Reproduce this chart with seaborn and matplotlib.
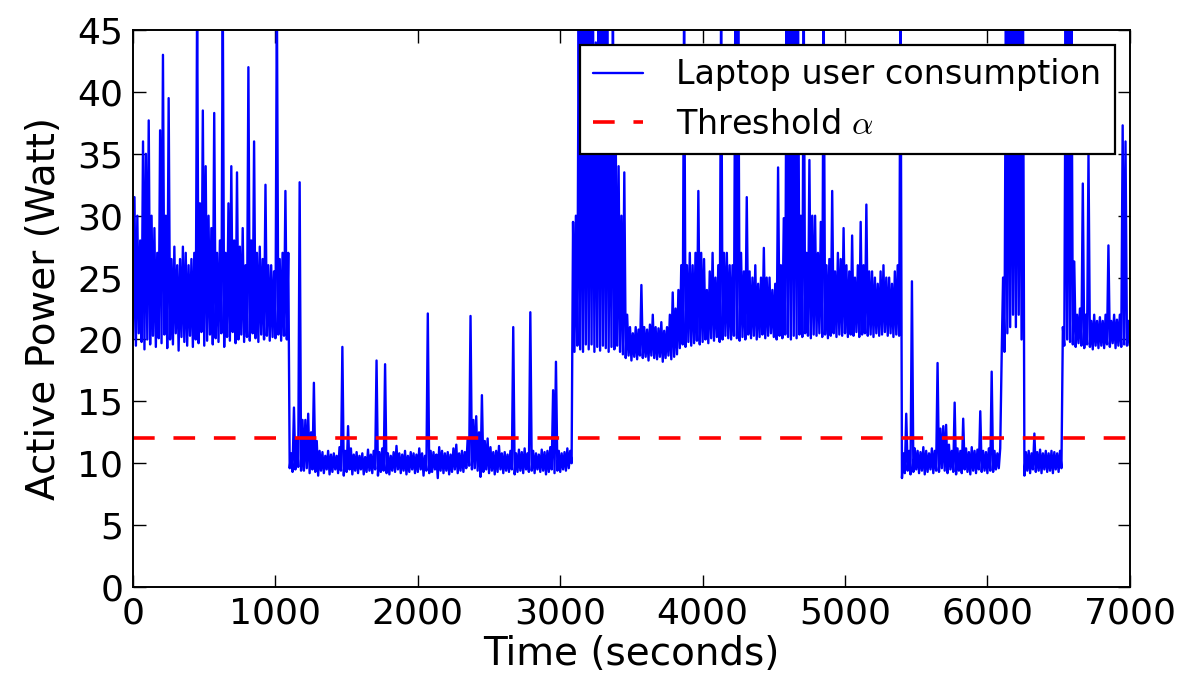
import numpy as np
import pandas as pd
import matplotlib
matplotlib.use("Agg")
import matplotlib.pyplot as plt
import seaborn as sns

# Active power of a laptop user (W), summarised per 20 s window by its
# lowest and highest reading; 48 marks readings above the axis range.
window_s = 20

window_max = [
    31.5, 30.0, 28.0, 36.0, 35.0, 37.7, 30.0, 29.0, 27.0, 36.9,
    43.0, 30.0, 39.5, 26.5, 27.5, 26.0, 26.5, 27.5, 27.0, 26.0,
    26.5, 27.0, 48.0, 31.0, 38.5, 34.0, 30.0, 29.0, 38.3, 27.0,
    28.0, 48.0, 27.0, 31.0, 34.0, 28.0, 33.5, 27.5, 29.0, 26.0,
    42.0, 28.0, 36.0, 27.0, 27.5, 26.5, 32.5, 26.0, 26.0, 25.5,
    48.0, 26.5, 27.0, 32.0, 27.0, 10.8, 14.5, 12.0, 32.7, 13.5,
    13.5, 14.0, 12.5, 16.5, 11.8, 11.0, 10.9, 10.6, 11.0, 10.7,
    10.8, 10.6, 11.3, 19.4, 11.0, 13.0, 11.2, 10.7, 10.9, 10.6,
    10.8, 10.5, 11.1, 10.7, 11.0, 18.3, 10.9, 11.2, 18.0, 10.8,
    10.6, 10.9, 11.4, 10.8, 10.7, 11.0, 10.6, 10.9, 10.8, 10.7,
    11.2, 10.8, 10.6, 22.1, 11.0, 10.9, 10.7, 11.3, 11.0, 10.8,
    10.9, 10.7, 11.2, 11.5, 10.8, 11.0, 10.9, 12.0, 21.9, 13.5,
    13.8, 12.5, 15.5, 11.8, 12.0, 11.3, 10.9, 11.0, 11.4, 10.8,
    10.9, 10.7, 11.0, 21.0, 10.8, 11.1, 10.9, 11.2, 10.8, 22.2,
    11.0, 10.8, 10.7, 11.1, 10.9, 11.0, 11.3, 15.9, 18.2, 11.0,
    10.8, 10.9, 11.2, 11.0, 29.5, 30.0, 48.0, 48.0, 48.0, 48.0,
    48.0, 48.0, 44.0, 48.0, 48.0, 48.0, 48.0, 40.0, 48.0, 36.0,
    34.0, 30.0, 33.5, 22.0, 21.0, 20.5, 21.0, 20.8, 24.4, 21.0,
    20.8, 21.2, 22.0, 21.0, 20.9, 21.4, 20.7, 21.0, 22.0, 23.8,
    22.5, 24.0, 26.0, 48.0, 26.0, 27.0, 26.0, 27.0, 32.0, 27.0,
    26.5, 24.0, 25.5, 27.0, 25.0, 26.0, 48.0, 27.0, 27.0, 26.0,
    26.0, 48.0, 48.0, 27.0, 25.5, 31.5, 25.5, 25.0, 26.0, 24.5,
    25.0, 27.4, 25.0, 25.0, 24.0, 24.5, 33.9, 26.0, 29.8, 48.0,
    48.0, 48.0, 48.0, 48.0, 30.0, 48.0, 27.0, 34.5, 30.0, 30.0,
    27.0, 29.5, 48.0, 26.0, 26.5, 32.0, 25.5, 27.0, 26.5, 29.0,
    26.0, 25.5, 28.4, 25.0, 26.0, 29.5, 26.0, 30.9, 25.5, 25.5,
    25.0, 24.5, 25.5, 26.0, 25.0, 25.0, 24.5, 25.5, 26.0, 48.0,
    10.8, 14.0, 11.0, 24.7, 11.2, 11.0, 10.9, 11.3, 11.0, 10.8,
    11.2, 11.0, 18.1, 12.8, 13.0, 13.1, 11.5, 11.0, 14.9, 11.2,
    11.0, 13.6, 11.2, 10.9, 11.3, 11.0, 11.1, 14.2, 11.0, 10.9,
    11.2, 17.4, 11.0, 10.8, 11.2, 25.0, 48.0, 48.0, 48.0, 48.0,
    48.0, 48.0, 48.0, 10.9, 11.0, 10.8, 12.4, 10.9, 11.1, 10.8,
    11.0, 10.8, 11.0, 10.9, 10.8, 11.0, 21.0, 48.0, 48.0, 48.0,
    26.3, 22.0, 22.5, 32.6, 22.0, 35.0, 21.5, 22.0, 21.5, 21.8,
    21.5, 22.0, 27.6, 21.5, 22.0, 21.6, 22.0, 37.3, 36.0, 21.5,
    21.0,
]

window_min = [
    20.0, 19.5, 20.5, 19.8, 19.2, 20.0, 19.6, 20.3, 19.4, 20.1,
    19.7, 20.4, 19.3, 20.0, 19.6, 20.5, 19.1, 20.2, 19.8, 19.5,
    20.3, 19.4, 20.0, 19.7, 20.6, 19.5, 19.9, 20.4, 19.6, 20.1,
    19.8, 20.5, 19.4, 20.2, 19.9, 20.6, 19.7, 20.0, 20.4, 19.8,
    20.2, 19.9, 20.5, 20.1, 19.8, 20.4, 20.0, 20.3, 19.9, 20.2,
    20.1, 20.4, 19.9, 20.3, 20.0, 9.6, 9.3, 9.5, 9.7, 9.4,
    9.4, 9.6, 9.2, 9.5, 9.3, 9.0, 9.4, 9.2, 9.5, 9.1,
    9.3, 9.5, 9.2, 9.4, 9.0, 9.3, 9.5, 9.1, 9.4, 9.2,
    9.5, 9.1, 9.3, 9.4, 9.2, 9.5, 9.0, 9.3, 9.4, 9.2,
    9.1, 9.4, 9.3, 9.5, 9.2, 9.4, 9.1, 9.3, 9.5, 9.2,
    9.3, 9.5, 9.0, 9.4, 9.2, 9.3, 9.5, 8.8, 9.4, 9.2,
    9.4, 9.1, 9.3, 9.5, 9.2, 9.4, 9.3, 9.6, 9.8, 9.5,
    9.6, 9.4, 8.9, 9.3, 9.5, 9.2, 9.4, 9.1, 9.3, 9.5,
    9.2, 9.4, 9.3, 9.5, 9.1, 9.3, 9.4, 9.2, 9.5, 9.3,
    9.4, 9.2, 9.5, 9.3, 9.4, 9.1, 9.3, 9.5, 9.2, 9.4,
    9.3, 9.5, 9.4, 9.6, 10.0, 19.0, 19.5, 19.2, 19.0, 19.6,
    19.2, 19.6, 19.0, 19.4, 19.1, 19.5, 19.3, 19.0, 19.4, 19.2,
    19.5, 19.0, 18.8, 18.5, 18.7, 18.3, 18.6, 18.4, 18.7, 18.5,
    18.6, 18.3, 18.7, 18.5, 18.4, 18.6, 18.2, 18.5, 18.7, 18.4,
    18.6, 18.8, 19.3, 19.6, 19.4, 19.8, 19.5, 19.7, 19.9, 19.6,
    19.8, 20.0, 19.7, 20.1, 19.9, 20.2, 19.8, 20.0, 20.3, 20.1,
    20.0, 20.3, 20.1, 19.9, 20.2, 20.0, 20.4, 20.1, 20.3, 20.0,
    20.2, 20.4, 20.1, 20.3, 20.5, 20.2, 20.0, 20.3, 20.1, 20.4,
    20.2, 20.0, 20.3, 20.1, 20.4, 20.2, 20.5, 20.3, 20.1, 20.4,
    20.3, 20.5, 20.2, 20.4, 20.1, 20.3, 20.5, 20.2, 20.4, 20.3,
    20.5, 20.2, 20.4, 20.3, 20.6, 20.2, 20.4, 20.5, 20.3, 20.4,
    20.2, 20.5, 20.3, 20.4, 20.6, 20.3, 20.5, 20.2, 20.4, 20.3,
    8.8, 9.2, 9.4, 9.1, 9.3, 9.5, 9.2, 9.4, 9.1, 9.3,
    9.5, 9.2, 9.4, 9.3, 9.6, 9.4, 9.2, 9.5, 9.3, 9.1,
    9.4, 9.2, 9.5, 9.3, 9.1, 9.4, 9.2, 9.5, 9.3, 9.4,
    9.2, 9.4, 9.3, 9.5, 9.6, 18.5, 19.0, 20.5, 21.0, 22.0,
    21.0, 22.0, 20.0, 9.0, 9.4, 9.2, 9.5, 9.3, 9.4, 9.2,
    9.5, 9.3, 9.4, 9.2, 9.5, 9.3, 9.6, 19.5, 20.0, 19.8,
    19.6, 19.4, 19.7, 19.5, 19.3, 19.6, 19.4, 19.2, 19.5, 19.3,
    19.5, 19.3, 19.6, 19.4, 19.7, 19.3, 19.5, 19.4, 19.6, 19.5,
    19.5,
]

threshold_alpha = 12.0

x_ticks = [0, 1000, 2000, 3000, 4000, 5000, 6000, 7000]
y_ticks = [0, 5, 10, 15, 20, 25, 30, 35, 40, 45]

# Each window contributes its low reading at the start and its high
# reading half a window later, so the trace sweeps the full range.
window_start = np.arange(len(window_max)) * window_s
df = pd.DataFrame({
    "time": np.concatenate([window_start, window_start + window_s / 2]),
    "power": np.concatenate([window_min, window_max]),
}).sort_values("time")

sns.set_style("ticks")
plt.rcParams.update({
    "font.family": ["DejaVu Sans"],
    "mathtext.fontset": "cm",
    "text.color": "black",
    "axes.labelcolor": "black",
    "xtick.direction": "in",
    "ytick.direction": "in",
    "xtick.top": True,
    "ytick.right": True,
    "xtick.major.size": 9,
    "ytick.major.size": 9,
    "xtick.major.width": 1.0,
    "ytick.major.width": 1.0,
    "xtick.color": "black",
    "ytick.color": "black",
    "axes.edgecolor": "black",
    "axes.linewidth": 1.4,
})

fig = plt.figure(figsize=(11.88, 6.91), dpi=100)
ax = fig.add_axes([0.112, 0.1505, 0.839, 0.806])

sns.lineplot(data=df, x="time", y="power", ax=ax, color="#0000ff",
             linewidth=1.7, sort=True, label="Laptop user consumption")
ax.axhline(threshold_alpha, color="#ff0000", linewidth=2.6,
           dashes=(6.0, 5.2), label=r"Threshold $\alpha$")

ax.set_xlim(0, 7000)
ax.set_ylim(0, 45)
ax.set_xticks(x_ticks)
ax.set_yticks(y_ticks)
ax.tick_params(axis="both", labelsize=26, pad=7)
ax.set_xlabel("Time (seconds)", fontsize=28, labelpad=3)
ax.set_ylabel("Active Power (Watt)", fontsize=28, labelpad=10)

leg = ax.legend(loc="upper right", fontsize=24, frameon=True, fancybox=False,
                framealpha=1.0, edgecolor="black", handlelength=1.5,
                handletextpad=1.0, borderpad=0.4, labelspacing=0.5,
                borderaxespad=0.45)
leg.get_frame().set_linewidth(1.6)
for text in leg.get_texts():
    text.set_color("black")

fig.savefig("out.png", dpi=100)
